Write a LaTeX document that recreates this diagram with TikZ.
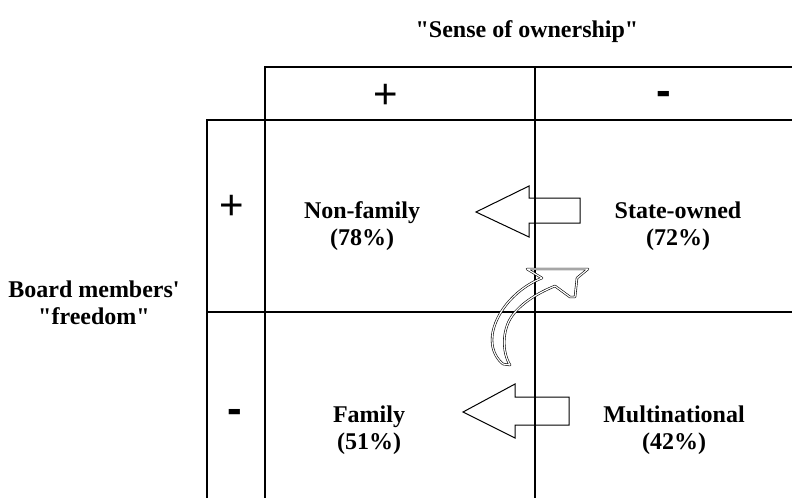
\documentclass[tikz,border=0pt]{standalone}
\usepackage{fontspec}
\setmainfont{Liberation Serif}[Ligatures=TeXOff]
\newfontfamily\signfont{Liberation Sans}
\begin{document}
\begin{tikzpicture}[x=1pt,y=-1pt,
  grid/.style={draw=black,line width=1.3pt},
  lbl/.style={font=\fontsize{24}{27}\selectfont\bfseries,align=center,inner sep=0pt},
  plus/.style={font=\signfont\fontsize{42}{42}\selectfont,inner sep=0pt},
  minus/.style={font=\signfont\bfseries\fontsize{44}{44}\selectfont,inner sep=0pt},
  blockarrow/.style={draw=black,line width=1pt,line join=miter},
  curvearrow/.style={draw=black,double=white,double distance=1.2pt,line width=0.6pt,line join=round}]
\useasboundingbox (0,0) rectangle (792,498);
% grid
\coordinate (hTL) at (265,67);
\coordinate (hTR) at (792,67);
\coordinate (mT) at (535,67);
\coordinate (mB) at (535,498);
\coordinate (aL) at (207,120);
\coordinate (aR) at (792,120);
\coordinate (bL) at (207,312);
\coordinate (bR) at (792,312);
\coordinate (lB) at (207,498);
\coordinate (cB) at (265,498);
\draw[grid] (hTR) -- (hTL) -- (cB);
\draw[grid] (mT) -- (mB);
\draw[grid] (aR) -- (aL) -- (lB);
\draw[grid] (bL) -- (bR);
% titles
\node[lbl,anchor=base] (title) at (527,37) {"Sense of ownership"};
\node[lbl] (board) at (94,303) {Board members'\\"freedom"};
% signs
\node[plus] (hplus) at (386,96) {+};
\node[minus,anchor=base] (hminus) at (664,105) {-};
\node[plus] (lplus) at (232,207) {+};
\node[minus,anchor=base] (lminus) at (235,423) {-};
% cells
\node[lbl] (nonfam) at (362,226) {Non-family\\(78\%)};
\node[lbl] (state) at (678,226) {State-owned\\(72\%)};
\node[lbl] (fam) at (369,430) {Family\\(51\%)};
\node[lbl] (multi) at (674,430) {Multinational\\(42\%)};
% block arrows
\draw[blockarrow] (476,212) -- (529,186) -- (529,198) -- (580,198) -- (580,223) -- (529,223) -- (529,237) -- cycle;
\draw[blockarrow] (463,412) -- (515,384) -- (515,397) -- (569,397) -- (569,425) -- (515,425) -- (515,438) -- cycle;
% curved arrow
\draw[curvearrow] (542,278) .. controls (512,290) and (492,318) .. (492,340)
  .. controls (492,352) and (498,360) .. (503,364) -- (510,365)
  .. controls (502,352) and (502,330) .. (512,316)
  .. controls (522,302) and (540,292) .. (555,286) -- (570,297) -- (575,297) -- (577,278) -- (588,269) -- (527,269) -- cycle;
\end{tikzpicture}
\end{document}
